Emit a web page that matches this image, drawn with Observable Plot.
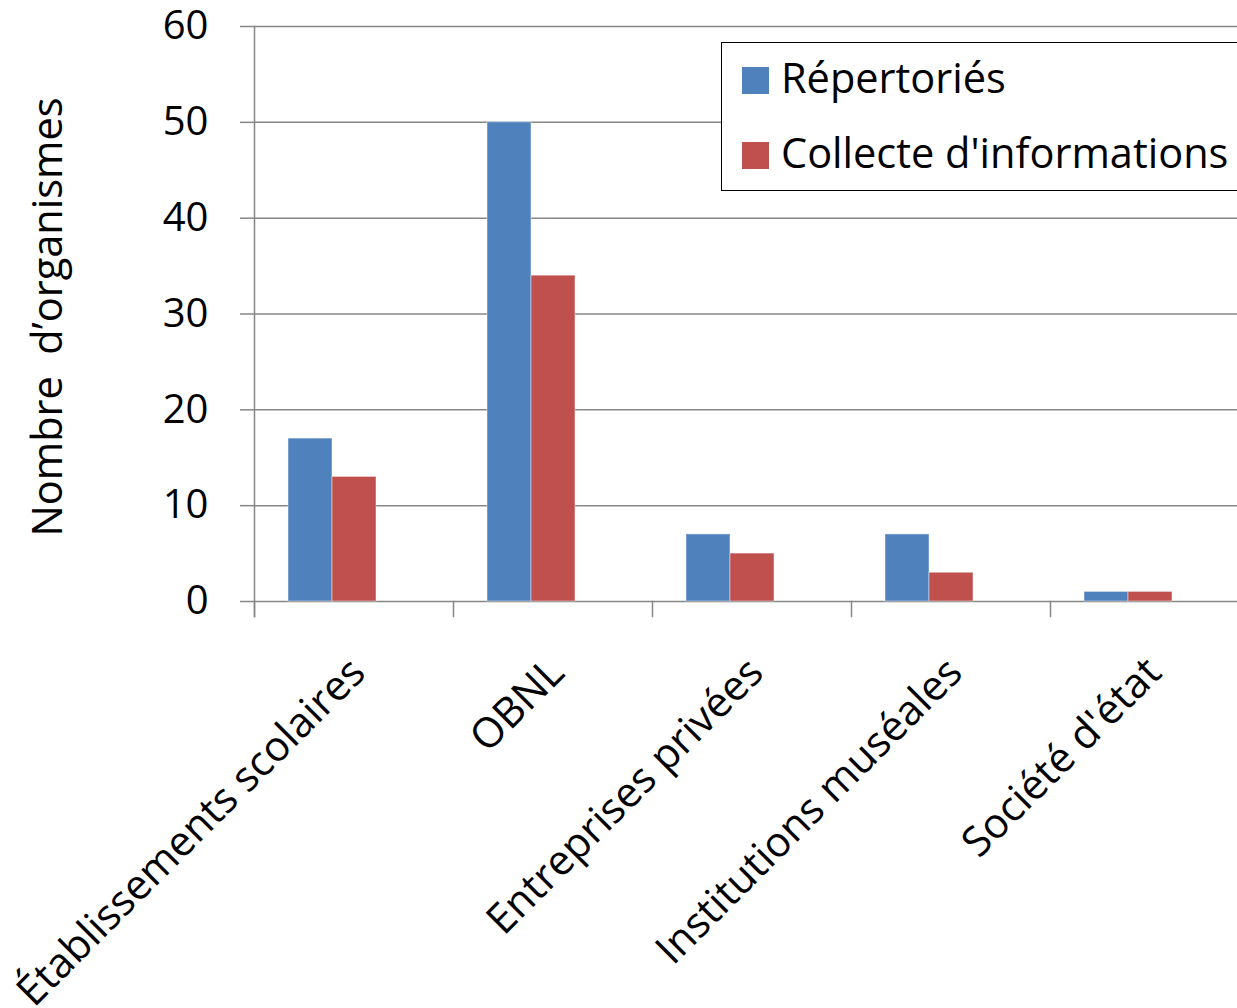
<!DOCTYPE html>
<html>
<head>
<meta charset="utf-8">
<script src="https://cdn.jsdelivr.net/npm/d3@7"></script>
<script src="https://cdn.jsdelivr.net/npm/@observablehq/plot@0.6"></script>
<style>
  html, body { margin: 0; padding: 0; background: #fff; overflow: hidden; }
  #chart { position: relative; width: 1237px; height: 1008px; overflow: hidden; }
  #chart svg { position: absolute; left: 0; top: 0; max-width: none; }
  .legend {
    position: absolute; left: 721px; top: 42px; width: 620px; height: 149px;
    border: 1.5px solid #000; box-sizing: border-box; background: #fff;
    font-family: "Open Sans", sans-serif; font-size: 41.5px; color: #000;
  }
  .legend .item { position: absolute; left: 20px; height: 40px; display: flex; align-items: center; white-space: nowrap; }
  .legend .sw { width: 27px; height: 27px; margin-right: 12px; flex: none; }
  .legend .txt { position: relative; top: -3px; }
</style>
</head>
<body>
<div id="chart"></div>
<script>
// Organisations by type: listed vs. those that answered the information survey
const categories = ["Établissements scolaires", "OBNL", "Entreprises privées", "Institutions muséales", "Société d'état"];
const series = ["Répertoriés", "Collecte d'informations"];
const repertories = [17, 50, 7, 7, 1];
const collecte = [13, 34, 5, 3, 1];
const colors = ["#4F81BD", "#C0504D"];
const yTicks = [0, 10, 20, 30, 40, 50, 60];
const yTitle = "Nombre\u00A0 d’organismes";

const rows = categories.flatMap((c, i) => [
  {categorie: c, serie: series[0], n: repertories[i]},
  {categorie: c, serie: series[1], n: collecte[i]}
]);

const font = "'Open Sans', sans-serif";
const axisGray = "#878787";

const chart = Plot.plot({
  width: 1249,
  height: 1008,
  marginLeft: 254,
  marginRight: 0,
  marginTop: 26,
  marginBottom: 407,
  style: {fontFamily: font, fontSize: "40px", color: "#000", background: "#fff", maxWidth: "none"},
  fx: {domain: categories, padding: 0, label: null},
  x: {domain: series, paddingInner: 0, paddingOuter: 1.261, align: 0.306, axis: null},
  y: {domain: [0, 60], label: null},
  color: {domain: series, range: colors},
  marks: [
    Plot.gridY(yTicks, {stroke: axisGray, strokeOpacity: 1, strokeWidth: 1.5}),
    Plot.axisY(yTicks, {tickSize: 14, tickPadding: 32, stroke: axisGray, strokeWidth: 1.5, fontSize: 40, label: null}),
    Plot.text([yTitle], {frameAnchor: "left", rotate: -90, dx: -206, dy: 3, facetAnchor: "left", fontSize: 41.5, lineAnchor: "middle", textAnchor: "middle"}),
    Plot.barY(rows, {fx: "categorie", x: "serie", y: "n", fill: "serie", stroke: "#fff", strokeOpacity: 0.45, strokeWidth: 1}),
    // vertical axis line, running just below the baseline
    Plot.frame({anchor: "left", facetAnchor: "left", insetBottom: -15, stroke: axisGray, strokeWidth: 1.5}),
    // category separator ticks under the baseline
    Plot.frame({anchor: "left", insetTop: 575, insetBottom: -15, stroke: axisGray, strokeWidth: 1.5}),
    Plot.axisFx({anchor: "bottom", tickSize: 0, tickPadding: 64, tickRotate: -45, textAnchor: "end", lineAnchor: "middle", dx: 4, fontSize: 41.5, label: null})
  ]
});
document.getElementById("chart").appendChild(chart);

// legend box
const legend = document.createElement("div");
legend.className = "legend";
series.forEach((s, i) => {
  const item = document.createElement("div");
  item.className = "item";
  item.style.top = (23 - 6 + i * 75) + "px";
  const sw = document.createElement("span");
  sw.className = "sw";
  sw.style.background = colors[i];
  const label = document.createElement("span");
  label.className = "txt";
  label.textContent = s;
  item.append(sw, label);
  legend.appendChild(item);
});
document.getElementById("chart").appendChild(legend);
</script>
</body>
</html>
